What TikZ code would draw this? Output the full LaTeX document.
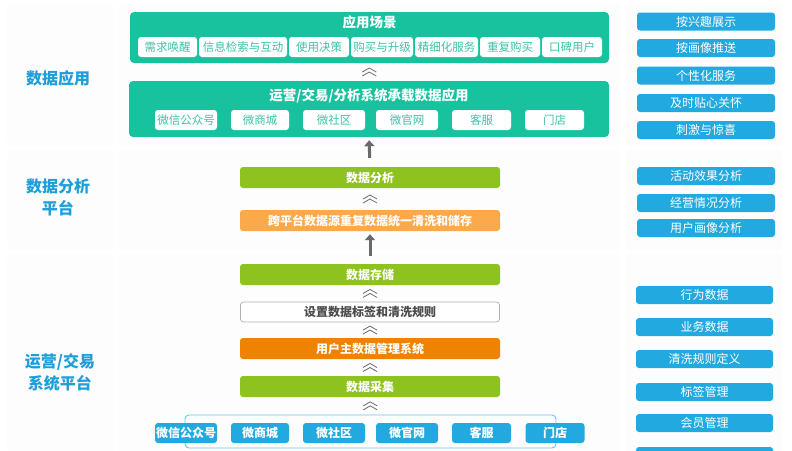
\documentclass[tikz,border=0pt]{standalone}
\usepackage{fontspec}
\setmainfont{Noto Sans CJK SC}
\usetikzlibrary{arrows.meta,calc}
\definecolor{teal1}{HTML}{19C29F}
\definecolor{teallt}{HTML}{3CC2A8}
\definecolor{green1}{HTML}{8DC21F}
\definecolor{orlt}{HTML}{FBA94B}
\definecolor{ordk}{HTML}{EF8200}
\definecolor{blue1}{HTML}{22A9E0}
\definecolor{lblue}{HTML}{1E9FD8}
\definecolor{panel}{HTML}{FDFDFD}
\definecolor{obox}{HTML}{6EC6EA}
\definecolor{chev}{HTML}{6A6A6A}
\tikzset{
  x=1pt,y=-1pt,
  panelbox/.style={fill=panel,draw=none,rounded corners=6pt},
  bigbox/.style={fill=teal1,draw=none,rounded corners=4pt,inner sep=0pt},
  subw/.style={fill=white,draw=none,rounded corners=3pt,minimum height=20pt,inner sep=0pt,text=teallt,font=\fontsize{11.5}{13}\selectfont},
  midbox/.style={draw=none,rounded corners=3pt,minimum width=260pt,minimum height=21pt,inner sep=0pt,text=white,font=\bfseries\fontsize{12}{14}\selectfont},
  bluebox/.style={fill=blue1,draw=none,rounded corners=3pt,minimum height=20pt,inner sep=0pt,text=white,font=\bfseries\fontsize{12}{14}\selectfont},
  rbox/.style={fill=blue1,draw=none,rounded corners=3pt,minimum width=138pt,minimum height=18pt,inner sep=0pt,text=white,font=\fontsize{12}{14}\selectfont},
  ltitle/.style={text=lblue,font=\bfseries\fontsize{16}{22}\selectfont,align=center},
  btitle/.style={text=white,font=\bfseries\fontsize{13.5}{15}\selectfont},
  chevron/.pic={\draw[chev,line width=0.8pt] (-7,0)--(0,-4)--(7,0); \draw[chev,line width=0.8pt] (-7,4)--(0,0)--(7,4);},
  uparrow/.style={draw=chev,line width=3pt,-{Triangle[length=6pt,width=10pt]}}
}
\begin{document}
\begin{tikzpicture}
\useasboundingbox (0,0) rectangle (792,450);
\clip (0,0) rectangle (792,450);
% background panels
\fill[panelbox] (7,3) rectangle (113,147);
\fill[panelbox] (7,150) rectangle (113,250);
\fill[panelbox] (7,253) rectangle (113,455);
\fill[panelbox] (118,3) rectangle (620,147);
\fill[panelbox] (118,150) rectangle (620,250);
\fill[panelbox] (118,253) rectangle (620,455);
\fill[panelbox] (625,3) rectangle (783,147);
\fill[panelbox] (625,150) rectangle (783,250);
\fill[panelbox] (625,253) rectangle (783,455);

% left labels
\node[ltitle] (l1) at (58,78) {数据应用};
\node[ltitle] (l2) at (58,197) {数据分析\\平台};
\node[ltitle] (l3) at (60,372) {运营/交易\\系统平台};

% top teal box
\node[bigbox,minimum width=479pt,minimum height=51pt] (top) at (369.5,37.5) {};
\node[btitle] (toptitle) at (369.5,22) {应用场景};
\node[subw,minimum width=59pt] (s1) at (167.5,47) {需求唤醒};
\node[subw,minimum width=88pt] (s2) at (243,47) {信息检索与互动};
\node[subw,minimum width=60pt] (s3) at (319,47) {使用决策};
\node[subw,minimum width=62pt] (s4) at (382,47) {购买与升级};
\node[subw,minimum width=63pt] (s5) at (446.5,47) {精细化服务};
\node[subw,minimum width=60pt] (s6) at (510,47) {重复购买};
\node[subw,minimum width=60pt] (s7) at (572,47) {口碑用户};

% second teal box
\node[bigbox,minimum width=480pt,minimum height=56pt] (sys) at (369,109) {};
\node[btitle] (systitle) at (369,96) {运营/交易/分析系统承载数据应用};
\node[subw,minimum width=62pt] (t1) at (186,120) {微信公众号};
\node[subw,minimum width=58pt] (t2) at (260,120) {微商城};
\node[subw,minimum width=62pt] (t3) at (334,120) {微社区};
\node[subw,minimum width=62pt] (t4) at (407,120) {微官网};
\node[subw,minimum width=59pt] (t5) at (481.5,120) {客服};
\node[subw,minimum width=59pt] (t6) at (554.5,120) {门店};

% middle column
\node[midbox,fill=green1] (ana) at (370,177.5) {数据分析};
\node[midbox,fill=orlt] (clean) at (370,220.5) {跨平台数据源重复数据统一清洗和储存};
\node[midbox,fill=green1] (store) at (370,274.5) {数据存储};
\node[midbox,fill=white,draw=black!30,line width=0.7pt,text=black!70,minimum width=259pt,minimum height=20pt] (tag) at (370,312) {设置数据标签和清洗规则};
\node[midbox,fill=ordk] (mdm) at (370,348.5) {用户主数据管理系统};
\node[midbox,fill=green1] (coll) at (370,386.5) {数据采集};

% bottom outlined box and channels
\node[draw=obox,line width=0.9pt,rounded corners=4pt,minimum width=371pt,minimum height=33pt,inner sep=0pt] (src) at (370.5,431.5) {};
\node[bluebox,minimum width=62pt] (b1) at (186,433) {微信公众号};
\node[bluebox,minimum width=58pt] (b2) at (260,433) {微商城};
\node[bluebox,minimum width=62pt] (b3) at (334,433) {微社区};
\node[bluebox,minimum width=62pt] (b4) at (407,433) {微官网};
\node[bluebox,minimum width=59pt] (b5) at (481.5,433) {客服};
\node[bluebox,minimum width=59pt] (b6) at (555,433) {门店};

% chevrons
\pic at ($(top.south)!0.5!(sys.north)$) {chevron};
\pic at ($(ana.south)!0.5!(clean.north)$) {chevron};
\pic at ($(store.south)!0.5!(tag.north)$) {chevron};
\pic at ($(tag.south)!0.5!(mdm.north)$) {chevron};
\pic at ($(mdm.south)!0.5!(coll.north)$) {chevron};
\pic at ($(coll.south)!0.5!(src.north)$) {chevron};

% up arrows
\draw[uparrow,shorten <=9pt,shorten >=3pt] (ana.north) -- (sys.south);
\draw[uparrow,shorten <=8pt,shorten >=3pt] (store.north) -- (clean.south);

% right column
\node[rbox] (r1) at (706,21.5) {按兴趣展示};
\node[rbox] (r2) at (706,48) {按画像推送};
\node[rbox] (r3) at (706,75.5) {个性化服务};
\node[rbox] (r4) at (706,103) {及时贴心关怀};
\node[rbox] (r5) at (706,130) {刺激与惊喜};
\node[rbox] (r6) at (706,176) {活动效果分析};
\node[rbox] (r7) at (706,203) {经营情况分析};
\node[rbox] (r8) at (706,228) {用户画像分析};
\node[rbox,minimum width=137pt] (r9) at (704.5,295) {行为数据};
\node[rbox,minimum width=137pt] (r10) at (704.5,327) {业务数据};
\node[rbox,minimum width=137pt] (r11) at (704.5,359) {清洗规则定义};
\node[rbox,minimum width=137pt] (r12) at (704.5,392) {标签管理};
\node[rbox,minimum width=137pt] (r13) at (704.5,423) {会员管理};
\node[rbox,minimum width=137pt] (r14) at (704.5,456) {};
\end{tikzpicture}
\end{document}
